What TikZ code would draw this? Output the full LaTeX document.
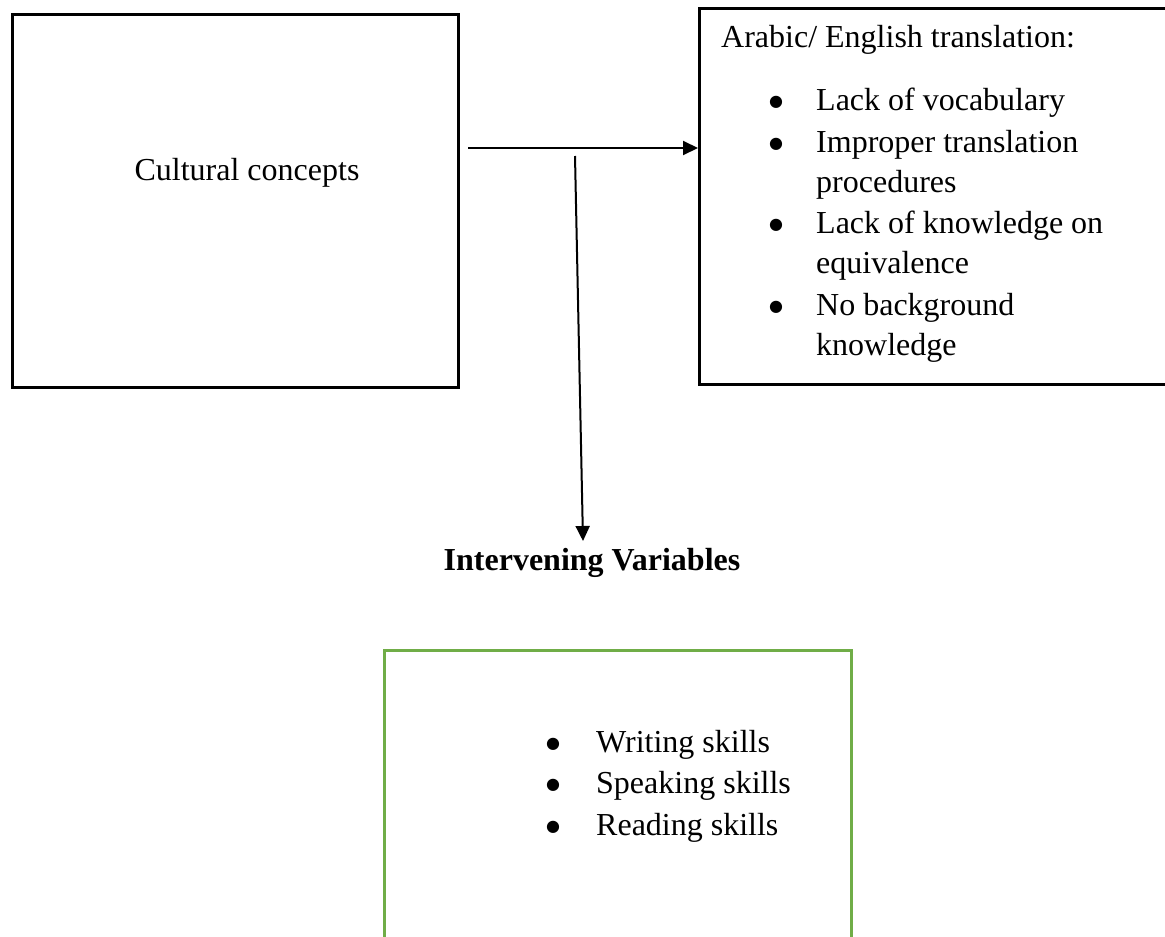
\documentclass[tikz,border=0pt]{standalone}
\usepackage{fontspec}
\setmainfont{Liberation Serif}
\newfontfamily\symfont{DejaVu Sans}
\usetikzlibrary{arrows.meta}
\definecolor{boxgreen}{RGB}{112,173,71}
\begin{document}
\begin{tikzpicture}[x=1pt,y=-1pt,
  blackbox/.style={draw=black,line width=2.6pt,minimum width=#1,inner sep=0pt,anchor=north west},
  greenbox/.style={draw=boxgreen,line width=2.6pt,anchor=north west,inner sep=0pt},
  txt/.style={font=\fontsize{32}{38}\selectfont,inner sep=0pt,anchor=base west},
  bul/.style={font=\symfont\fontsize{16}{18}\selectfont,inner sep=0pt,anchor=center,yshift=8pt},
  arr/.style={line width=2pt,-{Triangle[length=15pt,width=14pt]}}]
\useasboundingbox (0,0) rectangle (1165,937);
% boxes
\node[blackbox=446pt,minimum height=373pt] (cult) at (11,13) {};
\node[blackbox=470pt,minimum height=376pt] (trans) at (698,7) {};
\node[greenbox,minimum width=467pt,minimum height=320pt] (skills) at (383,649) {};
% left text
\node[txt,anchor=base] (cc) at (247,180) {Cultural concepts};
% right text
\node[txt] (head) at (721,47) {Arabic/ English translation:};
\node[bul] (b1) at (776,110) {●};
\node[txt] (t1) at (816,110) {Lack of vocabulary};
\node[bul] (b2) at (776,152) {●};
\node[txt] (t2a) at (816,152) {Improper translation};
\node[txt] (t2b) at (816,192) {procedures};
\node[bul] (b3) at (776,233) {●};
\node[txt] (t3a) at (816,233) {Lack of knowledge on};
\node[txt] (t3b) at (816,273) {equivalence};
\node[bul] (b4) at (776,315) {●};
\node[txt] (t4a) at (816,315) {No background};
\node[txt] (t4b) at (816,355) {knowledge};
% intervening
\node[txt,anchor=base,font=\fontsize{32}{38}\selectfont\bfseries] (iv) at (592,570) {Intervening Variables};
% green text
\node[bul] (g1) at (553,752) {●};
\node[txt] (w) at (596,752) {Writing skills};
\node[bul] (g2) at (553,793) {●};
\node[txt] (s) at (596,793) {Speaking skills};
\node[bul] (g3) at (553,835) {●};
\node[txt] (r) at (596,835) {Reading skills};
% connectors
\coordinate (hs) at (468,148);
\draw[arr] (hs) -- (hs -| trans.west);
\coordinate (vs) at (575,156);
\coordinate (ve) at (583,541);
\draw[arr] (vs) -- (ve);
\end{tikzpicture}
\end{document}
